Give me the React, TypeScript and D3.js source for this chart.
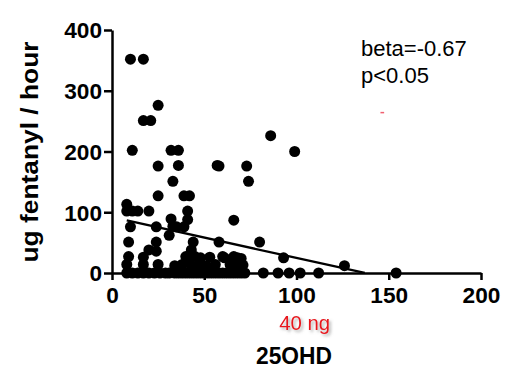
import React, { useEffect, useRef } from 'react';
import * as d3 from 'd3';

// 25OHD vs fentanyl consumption
const pointsX: number[] = [
  // y = 0 row
  8, 11, 14, 17, 20, 23, 26, 29, 31, 34, 36, 38, 40, 42, 44, 46, 48, 50, 52, 54, 56, 58, 60, 62, 64, 66, 68, 70, 72, 82, 90, 96, 102, 112, 154,
  // ~12
  8, 17, 25, 34, 38, 43, 47, 51, 56, 64, 66, 71, 126,
  // ~25
  9, 17, 40, 42, 45, 48, 53, 60, 61, 66, 68, 70, 93,
  // ~38
  20, 24, 43,
  // ~50
  9, 24, 44, 58, 80,
  31,
  // ~76
  10, 24, 33, 35, 39,
  32, 41, 66,
  // ~100
  8, 11, 14, 20, 41, 8,
  25, 39, 42,
  33, 74,
  // ~175
  25, 36, 57, 58, 73,
  // ~200
  11, 32, 36, 99,
  86, 17, 21, 25, 10, 17,
];
const pointsY: number[] = [
  0, 0, 0, 0, 0, 0, 0, 0, 0, 0, 0, 0, 0, 0, 0, 0, 0, 0, 0, 0, 0, 0, 0, 0, 0, 0, 0, 0, 0, 0, 0, 0, 0, 0, 0,
  14, 14, 14, 12, 14, 12, 14, 12, 14, 14, 11, 13, 12,
  27, 26, 27, 25, 27, 25, 26, 27, 25, 27, 25, 24, 25,
  38, 36, 38,
  51, 51, 51, 51, 51,
  62,
  76, 76, 77, 76, 76,
  89, 88, 87,
  102, 102, 102, 102, 102, 113,
  127, 127, 127,
  151, 151,
  176, 177, 177, 176, 176,
  202, 202, 202, 200,
  226, 251, 251, 276, 352, 352,
];

const xTicks: number[] = [0, 50, 100, 150, 200];
const yTicks: number[] = [0, 100, 200, 300, 400];

// linear fit shown on the figure
const fitIntercept = 91.8;
const fitSlope = -0.67;
const fitRange: number[] = [8, 137];

// 40 ng/ml threshold marker
const thresholdX = 99;
const thresholdTop = 264;

const App = () => {
  const chartRef = useRef<SVGSVGElement>(null);

  useEffect(() => {
    const width = 531;
    const height = 372;
    const svg = d3.select(chartRef.current).attr('width', width).attr('height', height);
    svg.selectAll('*').remove();

    const font = 'Arial, "Liberation Sans", sans-serif';

    const defs = svg.append('defs');
    const shadow = defs.append('filter').attr('id', 'shadow').attr('x', '-20%').attr('y', '-20%').attr('width', '150%').attr('height', '150%');
    shadow
      .append('feDropShadow')
      .attr('dx', 2)
      .attr('dy', 2)
      .attr('stdDeviation', 1.5)
      .attr('flood-color', '#777')
      .attr('flood-opacity', 0.6);

    const xScale = d3.scaleLinear().domain([0, 200]).range([112, 481]);
    const yScale = d3.scaleLinear().domain([0, 400]).range([273, 30]);

    // threshold line
    svg
      .append('line')
      .attr('x1', xScale(thresholdX))
      .attr('x2', xScale(thresholdX))
      .attr('y1', yScale(0))
      .attr('y2', yScale(thresholdTop))
      .attr('stroke', '#e8141c')
      .attr('stroke-width', 2)
      .attr('filter', 'url(#shadow)');

    // small red dash near the legend
    svg
      .append('line')
      .attr('x1', xScale(145.5))
      .attr('x2', xScale(147.5))
      .attr('y1', yScale(264))
      .attr('y2', yScale(264))
      .attr('stroke', '#f06070')
      .attr('stroke-width', 1.5);

    // X Axis
    const xAxis = svg
      .append('g')
      .attr('transform', `translate(0, ${yScale(0)})`)
      .call(d3.axisBottom(xScale).tickValues(xTicks).tickSize(7).tickSizeOuter(0).tickPadding(4));
    xAxis.selectAll('path, line').attr('stroke', '#000').attr('stroke-width', 2.5);
    xAxis
      .selectAll('text')
      .attr('y', 0)
      .attr('dy', 0)
      .attr('transform', 'translate(0, 30)')
      .attr('textLength', (d) => String(d).length * 12.6)
      .attr('lengthAdjust', 'spacingAndGlyphs')
      .style('font-family', font)
      .style('font-size', '22px')
      .style('font-weight', 'bold')
      .attr('fill', '#000');

    // Y Axis
    const yAxis = svg
      .append('g')
      .attr('transform', `translate(${xScale(0)}, 0)`)
      .call(d3.axisLeft(yScale).tickValues(yTicks).tickSize(8).tickSizeOuter(0).tickPadding(3));
    yAxis.selectAll('path, line').attr('stroke', '#000').attr('stroke-width', 2.5);
    yAxis
      .selectAll('text')
      .attr('x', -10)
      .attr('dy', '0.36em')
      .attr('textLength', (d) => String(d).length * 12.6)
      .attr('lengthAdjust', 'spacingAndGlyphs')
      .style('font-family', font)
      .style('font-size', '22px')
      .style('font-weight', 'bold')
      .attr('fill', '#000');

    // points
    const data = pointsX.map((x, i) => ({ x, y: pointsY[i] }));
    svg
      .selectAll('.dot')
      .data(data)
      .enter()
      .append('circle')
      .attr('class', 'dot')
      .attr('cx', (d) => xScale(d.x))
      .attr('cy', (d) => yScale(d.y))
      .attr('r', 5.5)
      .attr('fill', '#000');

    // regression line
    const line = d3
      .line<number>()
      .x((d) => xScale(d))
      .y((d) => yScale(fitIntercept + fitSlope * d));
    svg
      .append('path')
      .attr('d', line(fitRange))
      .attr('fill', 'none')
      .attr('stroke', '#000')
      .attr('stroke-width', 2.3);

    // stats text
    svg
      .append('text')
      .attr('x', 361)
      .attr('y', 56)
      .style('font-family', font)
      .style('font-size', '22px')
      .text('beta=-0.67');
    svg
      .append('text')
      .attr('x', 361)
      .attr('y', 83)
      .style('font-family', font)
      .style('font-size', '22px')
      .text('p<0.05');

    // threshold label
    svg
      .append('text')
      .attr('x', xScale(thresholdX) + 10)
      .attr('y', 330)
      .attr('text-anchor', 'middle')
      .attr('fill', '#e8141c')
      .attr('filter', 'url(#shadow)')
      .attr('textLength', 51)
      .attr('lengthAdjust', 'spacingAndGlyphs')
      .style('font-family', font)
      .style('font-size', '20px')
      .style('font-weight', 500)
      .text('40 ng');

    // axis titles
    svg
      .append('text')
      .attr('x', 294)
      .attr('y', 364)
      .attr('text-anchor', 'middle')
      .attr('textLength', 76)
      .attr('lengthAdjust', 'spacingAndGlyphs')
      .style('font-family', font)
      .style('font-size', '24px')
      .style('font-weight', 'bold')
      .text('25OHD');

    svg
      .append('text')
      .attr('transform', 'translate(38, 152) rotate(-90)')
      .attr('text-anchor', 'middle')
      .attr('textLength', 221)
      .attr('lengthAdjust', 'spacingAndGlyphs')
      .style('font-family', font)
      .style('font-size', '23px')
      .style('font-weight', 'bold')
      .text('ug fentanyl / hour');
  }, []);

  return <svg ref={chartRef} style={{ position: 'absolute', left: 0, top: 0, background: '#fff' }}></svg>;
};

export default App;
